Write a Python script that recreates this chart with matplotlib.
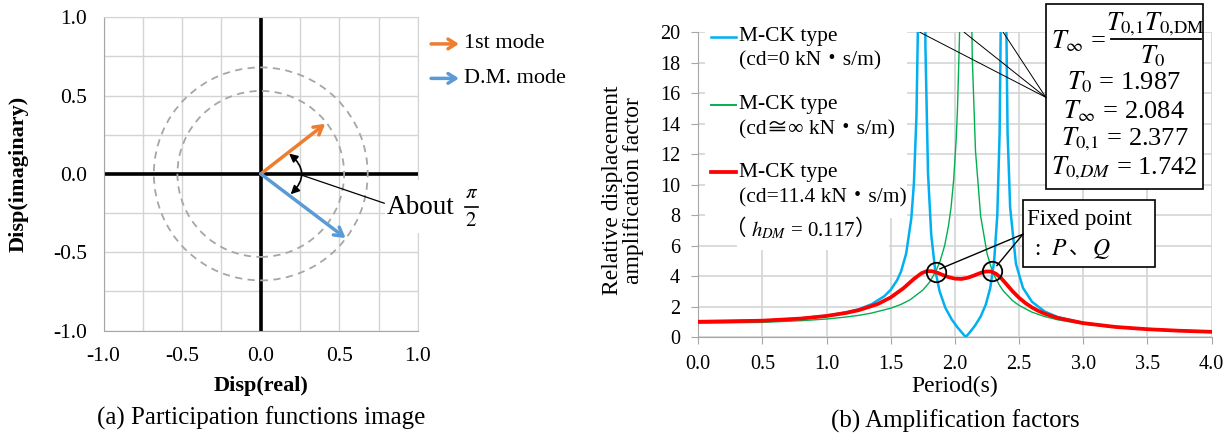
# -*- coding: utf-8 -*-
import matplotlib as mpl
mpl.use("Agg")
import matplotlib.pyplot as plt
from matplotlib.patches import Circle, Rectangle
from matplotlib.ticker import MultipleLocator, FormatStrFormatter

plt.rcParams['font.family'] = ['Liberation Serif', 'Noto Sans CJK JP', 'DejaVu Serif', 'DejaVu Sans']
plt.rcParams['mathtext.fontset'] = 'stix'
plt.rcParams['axes.unicode_minus'] = False

# (a) participation vectors
circle_r = [0.53, 0.68]
mode1_vec = (0.41, 0.32)
dm_vec = (0.54, -0.41)

# (b) amplification factors
blue_T = [0.0, 0.5, 0.8, 1.0, 1.15, 1.25, 1.35, 1.45, 1.5, 1.55, 1.58, 1.62, 1.66, 1.68, 1.70,
          1.715, 1.73, 1.736, 1.748, 1.755, 1.77, 1.79, 1.815, 1.845, 1.88, 1.925, 1.975, 2.02,
          2.06, 2.084, 2.11, 2.155, 2.20, 2.24, 2.275, 2.305, 2.33, 2.348, 2.36, 2.372, 2.384,
          2.395, 2.41, 2.43, 2.475, 2.53, 2.6, 2.7, 2.8, 3.0, 3.2, 3.4, 3.7, 4.0]
blue_amp = [1.00, 1.07, 1.22, 1.40, 1.61, 1.82, 2.15, 2.68, 3.10, 3.74, 4.30, 5.48, 7.79, 10.06,
            14.49, 22.17, 49.40, 100.58, 88.83, 41.64, 19.05, 10.76, 6.73, 4.45, 3.01, 1.92, 1.15,
            0.63, 0.23, 0.00, 0.25, 0.73, 1.34, 2.12, 3.22, 4.95, 8.01, 13.39, 23.11, 74.42,
            64.81, 24.29, 13.37, 8.50, 4.81, 3.22, 2.31, 1.67, 1.31, 0.92, 0.70, 0.57, 0.43, 0.34]

green_T = [0.0, 0.5, 0.8, 1.0, 1.15, 1.25, 1.35, 1.5, 1.58, 1.65, 1.75, 1.8, 1.85, 1.885, 1.92,
           1.95, 1.97, 1.99, 2.01, 2.02, 2.035, 2.05, 2.075, 2.093, 2.105, 2.115, 2.135, 2.16,
           2.2, 2.25, 2.28, 2.31, 2.35, 2.38, 2.45, 2.5, 2.6, 2.7, 2.8, 3.0, 3.3, 3.6, 4.0]
green_amp = [0.91, 0.96, 1.07, 1.18, 1.31, 1.42, 1.57, 1.89, 2.14, 2.44, 3.08, 3.58, 4.29, 5.00,
             6.01, 7.31, 8.54, 10.32, 13.03, 15.06, 19.60, 28.18, 105.48, 105.02, 44.88, 30.21,
             18.31, 12.22, 7.94, 5.48, 4.62, 3.97, 3.35, 2.99, 2.38, 2.07, 1.63, 1.34, 1.13,
             0.85, 0.60, 0.46, 0.34]

red_T = [0.0, 0.5, 0.8, 1.0, 1.15, 1.25, 1.35, 1.4, 1.5, 1.6, 1.68, 1.74, 1.78, 1.82, 1.86, 1.9,
         1.95, 2.0, 2.05, 2.1, 2.15, 2.2, 2.24, 2.28, 2.32, 2.36, 2.4, 2.45, 2.5, 2.55, 2.6,
         2.65, 2.7, 2.8, 3.0, 3.25, 3.5, 3.75, 4.0]
red_amp = [1.00, 1.07, 1.21, 1.38, 1.58, 1.76, 2.03, 2.17, 2.60, 3.21, 3.81, 4.19, 4.32, 4.32,
           4.23, 4.09, 3.93, 3.83, 3.81, 3.89, 4.04, 4.21, 4.30, 4.30, 4.15, 3.86, 3.48, 2.99,
           2.57, 2.22, 1.94, 1.71, 1.53, 1.25, 0.91, 0.66, 0.51, 0.41, 0.34]

fixed_T = [1.85, 2.285]
fixed_amp = [4.29, 4.30]
peak_T = [1.727, 2.072, 2.376]

c_orange = '#ED7D31'
c_blue = '#5B9BD5'
c_cyan = '#00B0F0'
c_green = '#00B050'
c_red = '#FF0000'
c_grid = '#d4d4d4'

fig = plt.figure(figsize=(12.28, 4.38), dpi=100)

# ---------------- (a) ----------------
ax1 = fig.add_axes([0.0843, 0.2454, 0.2561, 0.7151])
ax1.set_xlim(-1, 1)
ax1.set_ylim(-1, 1)
for axis in (ax1.xaxis, ax1.yaxis):
    axis.set_major_locator(MultipleLocator(0.5))
    axis.set_minor_locator(MultipleLocator(0.25))
    axis.set_major_formatter(FormatStrFormatter('%.1f'))
ax1.grid(True, which='both', color=c_grid, lw=1.0)
ax1.set_axisbelow(True)
ax1.tick_params(which='both', length=0, labelsize=15.5, pad=12)
for s in ['left', 'bottom']:
    ax1.spines[s].set_color('#a6a6a6')
for s in ['top', 'right']:
    ax1.spines[s].set_color(c_grid)
ax1.axhline(0, color='k', lw=2.6, zorder=2)
ax1.axvline(0, color='k', lw=2.6, zorder=2)

for r in circle_r:
    ax1.add_patch(Circle((0, 0), r, fill=False, ec='#a6a6a6', lw=1.3,
                         ls=(0, (4, 3)), zorder=2))

ax1.annotate('', xy=mode1_vec, xytext=(0, 0),
             arrowprops=dict(arrowstyle='->,head_length=0.6,head_width=0.35',
                             color=c_orange, lw=2.5, shrinkA=0, shrinkB=0), zorder=3)
ax1.annotate('', xy=dm_vec, xytext=(0, 0),
             arrowprops=dict(arrowstyle='->,head_length=0.6,head_width=0.35',
                             color=c_blue, lw=2.5, shrinkA=0, shrinkB=0), zorder=3)
ax1.annotate('', xy=(0.19, -0.13), xytext=(0.18, 0.13),
             arrowprops=dict(arrowstyle='<|-|>,head_length=0.5,head_width=0.25',
                             color='k', lw=1.2, shrinkA=0, shrinkB=0,
                             connectionstyle='arc3,rad=-0.55'), zorder=3)
ax1.plot([0.255, 0.785], [-0.006, -0.187], color='k', lw=0.9, zorder=3)

# "About pi/2" label, its white patch hides the right border
ax1.add_patch(Rectangle((0.79, -0.38), 0.65, 0.34, fc='white', ec='none',
                        zorder=3, clip_on=False))
ax1.text(0.80, -0.215, 'About', fontsize=19.5, ha='left', va='center',
         clip_on=False, zorder=4)
ax1.text(1.338, -0.125, r'$\pi$', fontsize=15, ha='center', va='center',
         clip_on=False, zorder=4)
ax1.plot([1.296, 1.381], [-0.21, -0.21], color='k', lw=1.2, clip_on=False, zorder=4)
ax1.text(1.338, -0.305, r'$2$', fontsize=15, ha='center', va='center',
         clip_on=False, zorder=4)

# legend of (a)
for yy, col, lab in [(0.83, c_orange, '1st mode'), (0.61, c_blue, 'D.M. mode')]:
    ax1.annotate('', xy=(1.26, yy), xytext=(1.083, yy), annotation_clip=False,
                 arrowprops=dict(arrowstyle='->,head_length=0.55,head_width=0.35',
                                 color=col, lw=2.5, shrinkA=0, shrinkB=0))
    ax1.text(1.29, yy, lab, fontsize=16, ha='left', va='center', clip_on=False)

fig.text(19 / 1228, 0.603, 'Disp(imaginary)', rotation=90, fontsize=16,
         fontweight='bold', ha='center', va='center')
fig.text(260.7 / 1228, 0.119, 'Disp(real)', fontsize=16, fontweight='bold',
         ha='center', va='center')
fig.text(260.7 / 1228, 0.046, '(a) Participation functions image', fontsize=18,
         ha='center', va='center')

# ---------------- (b) ----------------
ax2 = fig.add_axes([0.5686, 0.2306, 0.4181, 0.6957])
ax2.set_xlim(0, 4)
ax2.set_ylim(0, 20)
ax2.xaxis.set_major_locator(MultipleLocator(0.5))
ax2.xaxis.set_major_formatter(FormatStrFormatter('%.1f'))
ax2.yaxis.set_major_locator(MultipleLocator(2))
ax2.grid(True, color=c_grid, lw=1.2)
ax2.set_axisbelow(True)
ax2.tick_params(length=5, color='#a6a6a6', labelsize=14.5, pad=8)
for s in ['left', 'bottom']:
    ax2.spines[s].set_color('#a6a6a6')
for s in ['top', 'right']:
    ax2.spines[s].set_visible(False)

ax2.plot(green_T, green_amp, color=c_green, lw=1.0, zorder=3)
ax2.plot(blue_T, blue_amp, color=c_cyan, lw=1.8, zorder=3)
ax2.plot(red_T, red_amp, color=c_red, lw=2.7, zorder=4)
ax2.plot(fixed_T, fixed_amp, 'o', mfc='none', mec='k', ms=14, mew=1.3, zorder=6)

# legend of (b)
ax2.add_patch(Rectangle((0.05, 7.8), 1.58, 12.4, fc='white', ec='none',
                        zorder=1.5, clip_on=False))
ax2.add_patch(Rectangle((0.30, 5.7), 1.19, 2.2, fc='white', ec='none', zorder=1.5))
leg = [(19.7, 18.1, c_cyan, 1.8, '(cd=0 kN・s/m)'),
       (15.25, 13.6, c_green, 1.4, '(cd≅∞ kN・s/m)'),
       (10.8, 9.1, c_red, 2.7, '(cd=11.4 kN・s/m)')]
for y1, y2, col, lw, lab in leg:
    ax2.plot([0.098, 0.295], [y1, y1], color=col, lw=lw, zorder=5)
    ax2.text(0.32, y1, 'M-CK type', fontsize=15.5, ha='left', va='center', zorder=5)
    ax2.text(0.32, y2, lab, fontsize=15.5, ha='left', va='center', zorder=5)
ax2.text(0.20, 7.02, '（', fontsize=15.5, ha='left', va='center', zorder=5)
ax2.text(0.41, 7.02, r'$h_{DM}$ = 0.117', fontsize=15, ha='left', va='center', zorder=5)
ax2.text(1.22, 7.02, '）', fontsize=15.5, ha='left', va='center', zorder=5)

# formula box
ax2.add_patch(Rectangle((2.71, 9.7), 1.22, 12.15, fc='white', ec='k', lw=1.2,
                        zorder=5, clip_on=False))
for T in peak_T:
    ax2.plot([T, 2.708], [20, 15.73], color='k', lw=0.7, zorder=5)
ax2.text(2.96, 19.4, r'$T_\infty$ =', fontsize=19, ha='center', va='center',
         zorder=6, clip_on=False)
ax2.text(3.565, 20.5, r'$T_{0{,}1}T_{0{,}\mathrm{DM}}$', fontsize=19, ha='center',
         va='center', zorder=6, clip_on=False)
ax2.plot([3.216, 3.914], [19.55, 19.55], color='k', lw=1.3, zorder=6, clip_on=False)
ax2.text(3.54, 18.4, r'$T_0$', fontsize=19, ha='center', va='center', zorder=6)
box_lines = [(16.7, r'$T_0$ = 1.987'), (14.8, r'$T_\infty$ = 2.084'),
             (13.0, r'$T_{0{,}1}$ = 2.377'), (11.1, r'$T_{0{,}DM}$ = 1.742')]
for yy, s in box_lines:
    ax2.text(3.32, yy, s, fontsize=19, ha='center', va='center', zorder=6)

# fixed point box
ax2.add_patch(Rectangle((2.53, 4.58), 1.03, 4.40, fc='white', ec='k', lw=1.2, zorder=5))
ax2.plot([2.53, 1.883], [6.75, 4.47], color='k', lw=1.0, zorder=5)
ax2.plot([2.53, 2.327], [6.75, 4.69], color='k', lw=1.0, zorder=5)
ax2.text(2.565, 7.73, 'Fixed point', fontsize=16.5, ha='left', va='center', zorder=6)
ax2.text(2.62, 5.77, ':', fontsize=16.5, ha='left', va='center', zorder=6)
ax2.text(2.75, 5.77, r'$P$', fontsize=17, ha='left', va='center', zorder=6)
ax2.text(2.89, 5.77, '、', fontsize=15, ha='left', va='center', zorder=6)
ax2.text(3.07, 5.77, r'$Q$', fontsize=17, ha='left', va='center', zorder=6)

fig.text(623 / 1228, 0.565, 'Relative displacement\namplification factor', rotation=90,
         fontsize=17, ha='center', va='center', linespacing=1.05)
fig.text(955 / 1228, 0.117, 'Period(s)', fontsize=17, ha='center', va='center')
fig.text(955 / 1228, 0.039, '(b) Amplification factors', fontsize=18, ha='center',
         va='center')

fig.savefig('out.png', dpi=100)
